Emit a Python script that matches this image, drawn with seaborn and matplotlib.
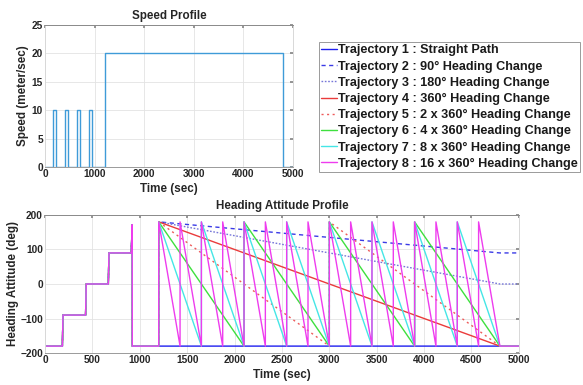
import matplotlib
matplotlib.use("Agg")
import matplotlib.pyplot as plt
import pandas as pd
import seaborn as sns

# ---------------- data ----------------
speed_time = [0, 158, 158, 223, 223, 405, 405, 470, 470, 643, 643, 708, 708,
              878, 878, 955, 955, 1200, 1200, 4800, 4800, 5000]
speed_value = [0, 0, 10, 10, 0, 0, 10, 10, 0, 0, 10, 10, 0,
               0, 10, 10, 0, 0, 20, 20, 0, 0]

pre_time = [0, 183, 190, 428, 435, 668, 675, 910, 920, 921, 1200]
pre_heading = [-180, -180, -90, -90, 0, 0, 90, 90, 172, -180, -180]

traj1_time = [5000]
traj1_heading = [-180]
traj2_time = [1200, 4800, 5000]
traj2_heading = [180, 90, 90]
traj3_time = [1200, 4800, 5000]
traj3_heading = [180, 0, 0]

traj4_wraps = [1200, 4800]
traj5_wraps = [1200, 3000, 4800]
traj6_wraps = [1200, 2100, 3000, 3900, 4800]
traj7_wraps = [1200, 1650, 2100, 2550, 3000, 3450, 3900, 4350, 4800]
traj8_wraps = [1200, 1425, 1650, 1875, 2100, 2325, 2550, 2775, 3000, 3225,
               3450, 3675, 3900, 4125, 4350, 4575, 4800]

labels = [
    "Trajectory 1 : Straight Path",
    "Trajectory 2 : 90° Heading Change",
    "Trajectory 3 : 180° Heading Change",
    "Trajectory 4 : 360° Heading Change",
    "Trajectory 5 : 2 x 360° Heading Change",
    "Trajectory 6 : 4 x 360° Heading Change",
    "Trajectory 7 : 8 x 360° Heading Change",
    "Trajectory 8 : 16 x 360° Heading Change",
]
colors = ["#1f1fef", "#3a3ae6", "#7676d8", "#ea3b3b", "#ee5a5a",
          "#3ee03e", "#45e6e6", "#ee3cee"]
styles = ["-", (0, (3, 2.5)), (0, (1.2, 1.2)), "-", (0, (1.5, 2.5)),
          "-", "-", "-"]


def saw(wraps):
    t, h = [], []
    for a, b in zip(wraps[:-1], wraps[1:]):
        t += [a, b]
        h += [180, -180]
    return t + [5000], h + [-180]


series = [(traj1_time, traj1_heading), (traj2_time, traj2_heading),
          (traj3_time, traj3_heading), saw(traj4_wraps), saw(traj5_wraps),
          saw(traj6_wraps), saw(traj7_wraps), saw(traj8_wraps)]

# ---------------- style ----------------
sns.set_theme(style="whitegrid")
plt.rcParams["font.family"] = ["Liberation Sans", "DejaVu Sans"]
plt.rcParams["font.weight"] = "bold"
plt.rcParams["axes.labelweight"] = "bold"
plt.rcParams["axes.titleweight"] = "bold"

LAB = 8.4
TICK = 7.3

fig = plt.figure(figsize=(5.83, 3.85), dpi=100)
ax1 = fig.add_axes([0.0772, 0.566, 0.4254, 0.369])
ax2 = fig.add_axes([0.0772, 0.0831, 0.8128, 0.3585])

for ax in (ax1, ax2):
    ax.grid(True, color="#e3e3e3", linewidth=0.6)
    for s in ax.spines.values():
        s.set_color("#d8d8d8")
        s.set_linewidth(0.7)
    ax.spines["top"].set_color("#8a8a8a")
    ax.spines["bottom"].set_color("#9a9a9a")
    ax.tick_params(axis="both", labelsize=TICK, pad=1.5, length=2,
                   direction="in", color="#888888", top=True, right=True,
                   labelcolor="#262626")

# speed profile
sdf = pd.DataFrame({"t": speed_time, "v": speed_value})
sns.lineplot(data=sdf, x="t", y="v", ax=ax1, sort=False, estimator=None,
             color="#3f9bd8", linewidth=1.0)
ax1.set_xlim(0, 5000)
ax1.set_ylim(0, 25)
ax1.set_xticks(range(0, 5001, 1000))
ax1.set_yticks(range(0, 26, 5))
ax1.set_title("Speed Profile", fontsize=LAB, pad=4)
ax1.set_xlabel("Time (sec)", fontsize=LAB, labelpad=3)
ax1.set_ylabel("Speed (meter/sec)", fontsize=LAB, labelpad=2)

# heading profile
handles = []
for (t, h), lab, c, ls in zip(series, labels, colors, styles):
    df = pd.DataFrame({"t": pre_time + list(t), "h": pre_heading + list(h)})
    sns.lineplot(data=df, x="t", y="h", ax=ax2, sort=False, estimator=None,
                 color=c, linewidth=1.0, linestyle=ls)
    handles.append(ax2.get_lines()[-1])
ax2.set_xlim(0, 5000)
ax2.set_ylim(-200, 200)
ax2.set_xticks(range(0, 5001, 500))
ax2.set_yticks(range(-200, 201, 100))
ax2.set_title("Heading Attitude Profile", fontsize=LAB, pad=4)
ax2.set_xlabel("Time (sec)", fontsize=LAB, labelpad=3)
ax2.set_ylabel("Heading Attitude (deg)", fontsize=LAB, labelpad=1)

for ax in (ax1, ax2):
    for lab in ax.get_xticklabels() + ax.get_yticklabels():
        lab.set_fontweight("bold")

leg = fig.legend(handles, labels, loc="upper left",
                 bbox_to_anchor=(0.547, 0.891), frameon=True, fancybox=False,
                 edgecolor="#9a9a9a", framealpha=1, borderpad=0.2,
                 handlelength=1.2, handletextpad=0.1, labelspacing=0.33,
                 borderaxespad=0, prop={"size": 9.1, "weight": "bold"})
leg.get_frame().set_linewidth(0.7)
for txt in leg.get_texts():
    txt.set_color("#1a1a1a")

fig.savefig("out.png", dpi=100)
